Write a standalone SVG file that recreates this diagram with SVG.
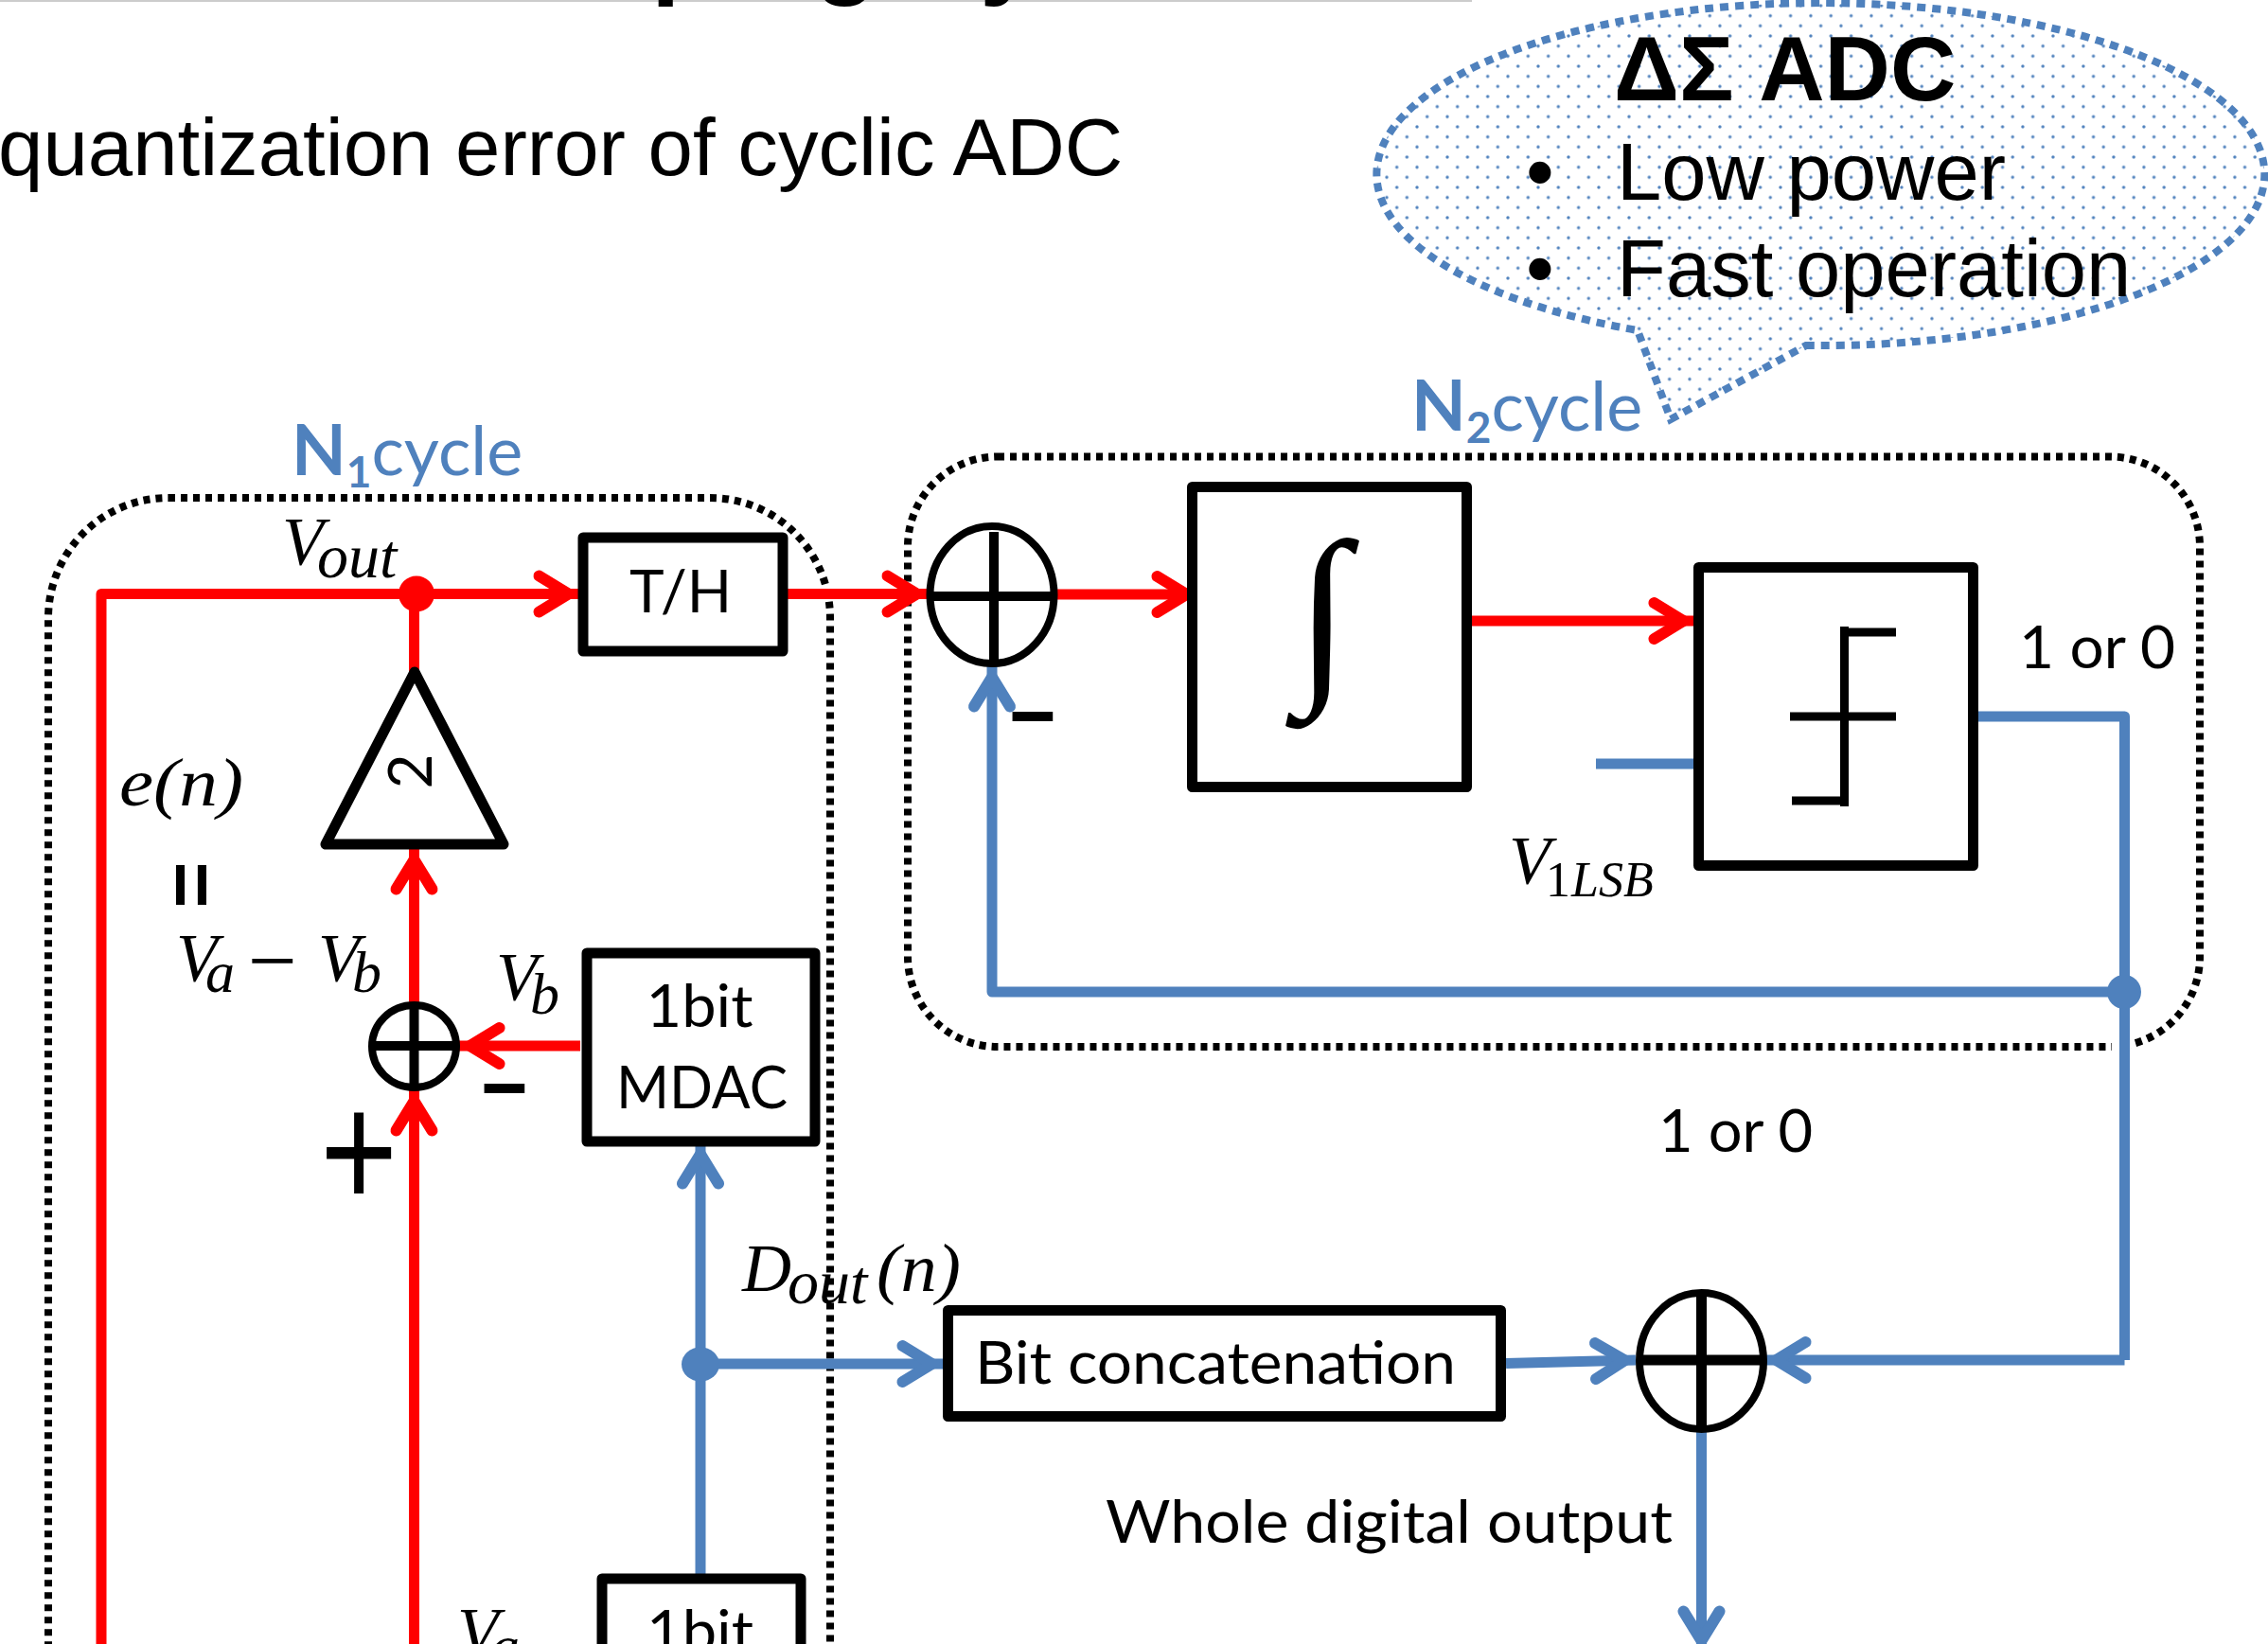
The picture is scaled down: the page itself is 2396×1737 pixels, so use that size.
<svg xmlns="http://www.w3.org/2000/svg" width="2396" height="1737" viewBox="0 0 2396 1737">
<style>
.box{fill:#fff;stroke:#000;stroke-width:11;stroke-linejoin:round}
.ring{fill:#fff;stroke:#000;stroke-width:8}
.bar{stroke:#000;stroke-width:10;fill:none}
.red{stroke:#f00;stroke-width:11;fill:none;stroke-linejoin:round}
.blue{stroke:#4f81bd;stroke-width:11;fill:none;stroke-linejoin:round}
.ra{marker-end:url(#ar)}
.ba{marker-end:url(#ab)}
.dot{fill:none;stroke:#000;stroke-width:8;stroke-dasharray:7 6}
.cal{font-family:Lato,"Liberation Sans",sans-serif;font-size:62px;fill:#000}
.ari{font-family:"Liberation Sans",Arial,sans-serif;font-size:85px;fill:#000}
.mth{font-family:"Liberation Serif","Times New Roman",serif;font-style:italic;font-size:72px;fill:#000}
.sub{font-size:62px}
.cyc{font-family:Lato,"Liberation Sans",sans-serif;font-size:72px;fill:#4f81bd}
.sgn{font-family:"Liberation Sans",Arial,sans-serif;font-weight:700;font-size:84px;fill:#000}
</style>
<defs>
<marker id="ar" markerUnits="userSpaceOnUse" markerWidth="70" markerHeight="70" refX="59.500" refY="35" orient="auto" overflow="visible"><path d="M17,16L48,35L17,54" fill="none" stroke="#f00" stroke-width="12" stroke-linecap="round" stroke-miterlimit="6"/></marker>
<marker id="ab" markerUnits="userSpaceOnUse" markerWidth="70" markerHeight="70" refX="59.500" refY="35" orient="auto" overflow="visible"><path d="M17,16L48,35L17,54" fill="none" stroke="#4f81bd" stroke-width="12" stroke-linecap="round" stroke-miterlimit="6"/></marker>
<pattern id="dots" patternUnits="userSpaceOnUse" width="21.33" height="21.33" patternTransform="translate(3.9 6)">
<rect width="21.33" height="21.33" fill="#fff"/>
<circle cx="0" cy="0" r="1.7" fill="#4f81bd"/><circle cx="21.33" cy="0" r="1.7" fill="#4f81bd"/><circle cx="0" cy="21.33" r="1.7" fill="#4f81bd"/><circle cx="21.33" cy="21.33" r="1.7" fill="#4f81bd"/>
<circle cx="10.67" cy="10.67" r="1.7" fill="#4f81bd"/>
</pattern>
</defs>
<rect width="2396" height="1737" fill="#fff"/>

<g id="title">
<rect x="0" y="0" width="1555" height="2" fill="#ccc"/>
<g font-family="Liberation Sans,Arial,sans-serif" font-weight="700" font-size="110" fill="#000">
<text x="688" y="-16">p</text><text x="860" y="-16">g</text><text x="1035" y="-16">y</text>
</g>
<text class="ari" x="-2" y="185" style="font-size:85.2px">quantization error of cyclic ADC</text>
</g>

<g id="n1-region"><rect class="dot" x="51" y="526" width="826" height="1500" rx="127" ry="127"/></g>
<g id="n2-region"><rect class="dot" x="959" y="482.500" width="1365" height="623.500" rx="95" ry="95"/><rect x="2231" y="1098" width="20" height="16" fill="#fff"/></g>

<g id="callout">
<path d="M1908,365A469,181 0 1 0 1730,349L1765,443Z" fill="url(#dots)" stroke="#4f81bd" stroke-width="8" stroke-dasharray="9 7"/>
<text class="ari" x="1705" y="106" style="font-size:96px;font-weight:700">ΔΣ ADC</text>
<text class="ari" x="1627" y="211" text-anchor="middle">•</text>
<text class="ari" x="1708" y="211">Low power</text>
<text class="ari" x="1627" y="313" text-anchor="middle">•</text>
<text class="ari" x="1708" y="313">Fast operation</text>
</g>

<g id="connectors">
<path class="red" d="M107,1760V627.500H440"/>
<path class="red ra" d="M440,627.500H612"/>
<path class="red" d="M437.500,627.500V710"/>
<path class="red ra" d="M832,627.500H980"/>
<path class="red ra" d="M1115,628H1265"/>
<path class="red ra" d="M1555,656H1790"/>
<path class="red ra" d="M437.500,1060V897"/>
<path class="red ra" d="M437.500,1760V1152"/>
<path class="red ra" d="M613,1105H485"/>
<path class="blue" d="M1686,807H1789"/>
<path class="blue" d="M2086,757H2244.500V1437"/>
<path class="blue ba" d="M2244,1048H1048V704"/>
<path class="blue ba" d="M740,1667V1208"/>
<path class="blue ba" d="M740,1441H996"/>
<path class="blue ba" d="M1591,1440.500L1728,1437"/>
<path class="blue ba" d="M2244.500,1437H1865"/>
<path class="blue ba" d="M1797.500,1507V1745"/>
<circle cx="440" cy="627.500" r="19" fill="#f00"/>
<ellipse cx="740" cy="1441.500" rx="20" ry="18" fill="#4f81bd"/>
<circle cx="2244" cy="1048" r="18" fill="#4f81bd"/>
</g>

<g id="amp-2">
<path d="M438,710L344,892H532Z" fill="#fff" stroke="#000" stroke-width="11" stroke-linejoin="round"/>
<text class="cal" transform="translate(456 815) rotate(-90)" text-anchor="middle" style="font-size:64px">2</text>
</g>

<g id="sum-small">
<ellipse class="ring" cx="437.500" cy="1105.500" rx="44.500" ry="43.500"/>
<path class="bar" d="M391,1105H484M437.500,1062V1149"/>
</g>
<g id="sum-1">
<ellipse class="ring" cx="1048" cy="628.500" rx="65.500" ry="72.500"/>
<path class="bar" d="M986,630H1115M1050,562V702"/>
</g>
<g id="sum-2">
<ellipse class="ring" cx="1797.500" cy="1438" rx="65.500" ry="72"/>
<path class="bar" d="M1730,1437H1866M1797.500,1366V1510" style="stroke-width:11"/>
</g>

<g id="th-box">
<rect class="box" x="616" y="568" width="211" height="120"/>
<text class="cal" x="719" y="647" text-anchor="middle">T/H</text>
</g>
<g id="mdac-box">
<rect class="box" x="620" y="1007" width="241" height="199"/>
<text class="cal" x="739" y="1085" text-anchor="middle" textLength="113" lengthAdjust="spacingAndGlyphs">1bit</text>
<text class="cal" x="651" y="1171" textLength="181" lengthAdjust="spacingAndGlyphs">MDAC</text>
</g>
<g id="adc-box">
<rect class="box" x="636" y="1668" width="210" height="140"/>
<text class="cal" x="683" y="1746" textLength="113" lengthAdjust="spacingAndGlyphs">1bit</text>
</g>
<g id="integrator">
<rect class="box" x="1259.500" y="514.500" width="290" height="317"/>
<text x="1397" y="715" text-anchor="middle" font-family="Liberation Serif,serif" font-style="italic" font-size="206" fill="#000">∫</text>
</g>
<g id="comparator">
<rect class="box" x="1794.500" y="599.500" width="290" height="315"/>
<path class="bar" style="stroke-width:9" d="M1944,668H2003M1948.500,662V852M1891,757H2003M1893,846H1953"/>
</g>
<g id="bit-concat">
<rect class="box" x="1001.500" y="1384.500" width="584" height="112"/>
<text class="cal" x="1030" y="1462" textLength="508" lengthAdjust="spacingAndGlyphs">Bit concatenation</text>
</g>

<g id="labels">
<text class="cyc" x="308" y="502"><tspan font-weight="700" font-size="75">N</tspan><tspan font-weight="700" font-size="46" dy="13">1</tspan><tspan dy="-13">cycle</tspan></text>
<text class="cyc" x="1491" y="455"><tspan font-weight="700" font-size="75">N</tspan><tspan font-weight="700" font-size="46" dy="13">2</tspan><tspan dy="-13">cycle</tspan></text>
<text class="mth" x="298" y="596">V<tspan class="sub" x="335" y="610" style="font-size:66px">out</tspan></text>
<text class="mth" x="126" y="851" textLength="131" lengthAdjust="spacingAndGlyphs">e(n)</text>
<text class="mth" transform="translate(198 935) rotate(90)" text-anchor="middle" style="font-style:normal;font-family:'Liberation Sans',sans-serif;font-weight:700;font-size:84px"><tspan dy="24">=</tspan></text>
<text class="mth" x="186" y="1036">V<tspan class="sub" x="217" y="1048">a</tspan></text>
<text class="mth" x="262" y="1046" style="font-style:normal;font-size:92px">−</text>
<text class="mth" x="336" y="1036">V<tspan class="sub" x="372" y="1048">b</tspan></text>
<text class="mth" x="524" y="1056">V<tspan class="sub" x="560" y="1071">b</tspan></text>
<text class="mth" x="483" y="1748">V<tspan class="sub" x="518" y="1760">a</tspan></text>
<text class="mth" x="784" y="1364">D<tspan class="sub" x="832" y="1377" style="font-size:66px">out</tspan><tspan x="926" y="1364" textLength="89" lengthAdjust="spacingAndGlyphs">(n)</tspan></text>
<text class="mth" x="1594" y="933">V<tspan class="sub" x="1633" y="947" style="font-style:normal;font-size:52px">1</tspan><tspan class="sub" x="1660" y="947" style="font-size:52px">LSB</tspan></text>
<text class="cal" x="2133" y="706" textLength="165" lengthAdjust="spacingAndGlyphs">1 or 0</text>
<text class="cal" x="1752" y="1217" textLength="163" lengthAdjust="spacingAndGlyphs">1 or 0</text>
<text class="cal" x="1168" y="1630" textLength="599" lengthAdjust="spacingAndGlyphs">Whole digital output</text>
<text class="sgn" transform="translate(1091 779) scale(2 1)" text-anchor="middle">-</text>
<text class="sgn" transform="translate(533 1172) scale(2 1)" text-anchor="middle">-</text>
<text transform="translate(379 1276) scale(1 1.25)" text-anchor="middle" font-family="Liberation Sans,sans-serif" font-size="140" fill="#000">+</text>
</g>
</svg>
